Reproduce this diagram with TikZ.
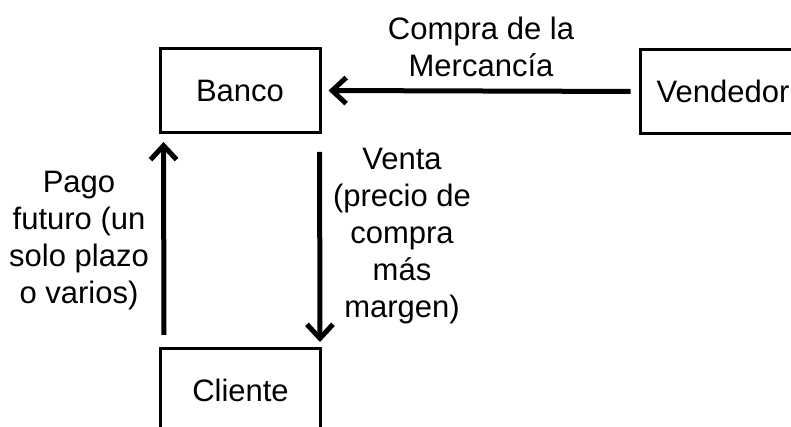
\documentclass[tikz,border=0pt]{standalone}
\usepackage{fontspec}
\setmainfont{Liberation Sans}
\usetikzlibrary{arrows.meta}

\tikzset{
  caja/.style={draw,line width=3pt,minimum width=160pt,minimum height=84pt,inner sep=0pt},
  flecha/.style={line width=5pt,-{Straight Barb[length=14pt,width=26pt]}},
  etiqueta/.style={align=center,inner sep=0pt}
}

\begin{document}
\begin{tikzpicture}[x=1pt,y=1pt,font=\fontsize{31}{37}\selectfont]
\useasboundingbox (0,0) rectangle (791,427);

% Cajas
\node[caja] (banco) at (240,336.5) {Banco};
\node[caja,minimum width=166pt] (vend) at (723,335.5) {Vendedor};
\node[caja] (cli) at (240.5,36.5) {Cliente};

% Flechas
\draw[flecha,shorten <=8pt,shorten >=7pt] (vend.west) -- (banco.east);
\draw[flecha,shorten <=12pt,shorten >=8pt] ([xshift=5pt]cli.north west) -- ([xshift=5pt]banco.south west);
\draw[flecha,shorten <=18pt,shorten >=5pt] ([xshift=-2pt]banco.south east) -- ([xshift=-2pt]cli.north east);

% Textos
\node[etiqueta] (compra) at (481,380) {Compra de la\\Mercancía};
\node[etiqueta] (pago) at (79,186) {Pago\\futuro (un\\solo plazo\\o varios)};
\node[etiqueta] (venta) at (402,191) {Venta\\(precio de\\compra\\más\\margen)};
\end{tikzpicture}
\end{document}
